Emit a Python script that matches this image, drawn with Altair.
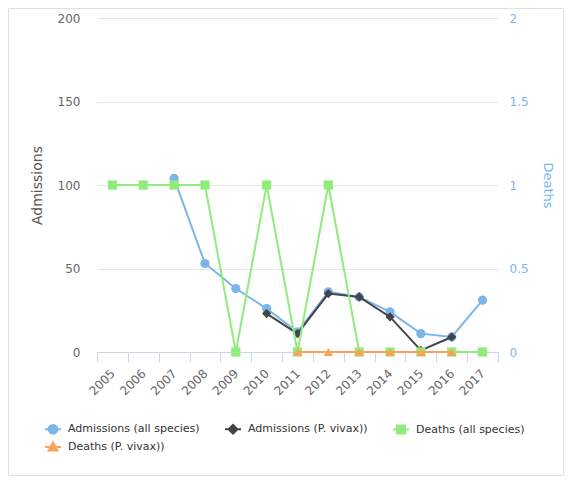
import altair as alt
import pandas as pd

FONT = "DejaVu Sans"

years = ["2005", "2006", "2007", "2008", "2009", "2010", "2011",
         "2012", "2013", "2014", "2015", "2016", "2017"]

adm_all_years = ["2007", "2008", "2009", "2010", "2011", "2012",
                 "2013", "2014", "2015", "2016", "2017"]
adm_all = [104, 53, 38, 26, 12, 36, 33, 24, 11, 9, 31]

adm_vivax_years = ["2010", "2011", "2012", "2013", "2014", "2015", "2016"]
adm_vivax = [23, 11, 35, 33, 21, 1, 9]

deaths_all_years = ["2005", "2006", "2007", "2008", "2009", "2010", "2011",
                    "2012", "2013", "2014", "2015", "2016", "2017"]
deaths_all = [1, 1, 1, 1, 0, 1, 0, 1, 0, 0, 0, 0, 0]

deaths_vivax_years = ["2011", "2012", "2013", "2014", "2015", "2016"]
deaths_vivax = [0, 0, 0, 0, 0, 0]

series_names = ["Admissions (all species)", "Admissions (P. vivax))",
                "Deaths (all species)", "Deaths (P. vivax))"]
series_colors = ["#7cb5ec", "#434348", "#90ed7d", "#f7a35c"]
marker_shapes = ["circle", "diamond", "square", "triangle-up"]
legend_paths = [
    "M-1,0H1M-0.55,0A0.55,0.55,0,1,0,0.55,0A0.55,0.55,0,1,0,-0.55,0Z",
    "M-1,0H1M0,-0.55L0.55,0L0,0.55L-0.55,0Z",
    "M-1,0H1M-0.5,-0.5H0.5V0.5H-0.5Z",
    "M-1,0H1M0,-0.55L0.55,0.45H-0.55Z",
]


def frame(yrs, vals, name):
    return pd.DataFrame({"year": yrs, "value": vals, "series": name})


df = pd.concat([
    frame(adm_all_years, adm_all, series_names[0]),
    frame(adm_vivax_years, adm_vivax, series_names[1]),
    frame(deaths_all_years, deaths_all, series_names[2]),
    frame(deaths_vivax_years, deaths_vivax, series_names[3]),
], ignore_index=True)

x_enc = alt.X(
    "year:O",
    scale=alt.Scale(type="band", domain=years, paddingInner=0, paddingOuter=0),
    bandPosition=0.5,
    axis=alt.Axis(
        title=None, labelAngle=-45, labelAlign="right", labelBaseline="middle",
        tickBand="extent", ticks=True, tickSize=10, tickColor="#ccd6eb",
        domainColor="#ccd6eb", grid=False, labelColor="#666666",
        labelFontSize=12, labelPadding=9, labelFont=FONT,
    ),
)

y_adm = alt.Y(
    "value:Q",
    scale=alt.Scale(domain=[0, 200]),
    axis=alt.Axis(
        title="Admissions", orient="left", values=[0, 50, 100, 150, 200],
        grid=True, gridColor="#e6e6e6", domain=False, ticks=False,
        labelColor="#666666", labelFontSize=12, labelFont=FONT, labelPadding=17,
        titleColor="#555555", titleFontSize=14, titleFontWeight="normal",
        titleFont=FONT, titlePadding=13,
    ),
)

y_dea = alt.Y(
    "value:Q",
    scale=alt.Scale(domain=[0, 2]),
    axis=alt.Axis(
        title="Deaths", orient="right", values=[0, 0.5, 1, 1.5, 2], format="~g",
        grid=False, domain=False, ticks=False,
        labelColor="#7cb5ec", labelFontSize=12, labelFont=FONT, labelPadding=11,
        titleColor="#7cb5ec", titleFontSize=13, titleFontWeight="normal",
        titleFont=FONT, titlePadding=12,
    ),
)

base = alt.Chart(df)


def series_layers(i, y_enc):
    name = series_names[i]
    sel = base.transform_filter(alt.datum.series == name)
    line = sel.mark_line(strokeWidth=2, color=series_colors[i]).encode(
        x=x_enc, y=y_enc,
    )
    pts = sel.mark_point(shape=marker_shapes[i], filled=True, size=85,
                         opacity=1, color=series_colors[i]).encode(
        x=x_enc, y=y_enc,
    )
    return [line, pts]


legend_props = dict(
    title=None, orient="none", legendX=-53, legendY=402, direction="horizontal",
    columns=3, columnPadding=21, rowPadding=0, labelFont=FONT, labelFontSize=11,
    labelColor="#333333", symbolSize=256, symbolStrokeWidth=2, labelOffset=6,
    padding=0, labelLimit=400,
)

legend_layer = base.transform_filter("false").mark_point(
    filled=True, opacity=1, strokeWidth=2
).encode(
    fill=alt.Fill("series:N",
                  scale=alt.Scale(domain=series_names, range=series_colors),
                  legend=alt.Legend(**legend_props)),
    stroke=alt.Stroke("series:N",
                      scale=alt.Scale(domain=series_names, range=series_colors),
                      legend=alt.Legend(**legend_props)),
    shape=alt.Shape("series:N",
                    scale=alt.Scale(domain=series_names, range=legend_paths),
                    legend=alt.Legend(**legend_props)),
)

border = alt.Chart(pd.DataFrame({"b": [0]})).mark_rect(
    fill="transparent", stroke="#e0e0e0", strokeWidth=1
).encode(
    x=alt.value(-88.5), x2=alt.value(466.5), y=alt.value(-9.5), y2=alt.value(457.5)
)

adm_group = alt.layer(*series_layers(0, y_adm), *series_layers(1, y_adm))
dea_group = alt.layer(*series_layers(2, y_dea), *series_layers(3, y_dea), legend_layer)

chart = alt.layer(border, adm_group, dea_group).resolve_scale(
    y="independent"
).properties(
    width=401, height=334,
    autosize=alt.AutoSizeParams(type="none"),
    padding={"left": 89, "top": 10, "right": 66, "bottom": 124},
).configure(font=FONT).configure_view(stroke="transparent", strokeWidth=0)

chart.save("out.html", embed_options={"renderer": "svg", "actions": False})
